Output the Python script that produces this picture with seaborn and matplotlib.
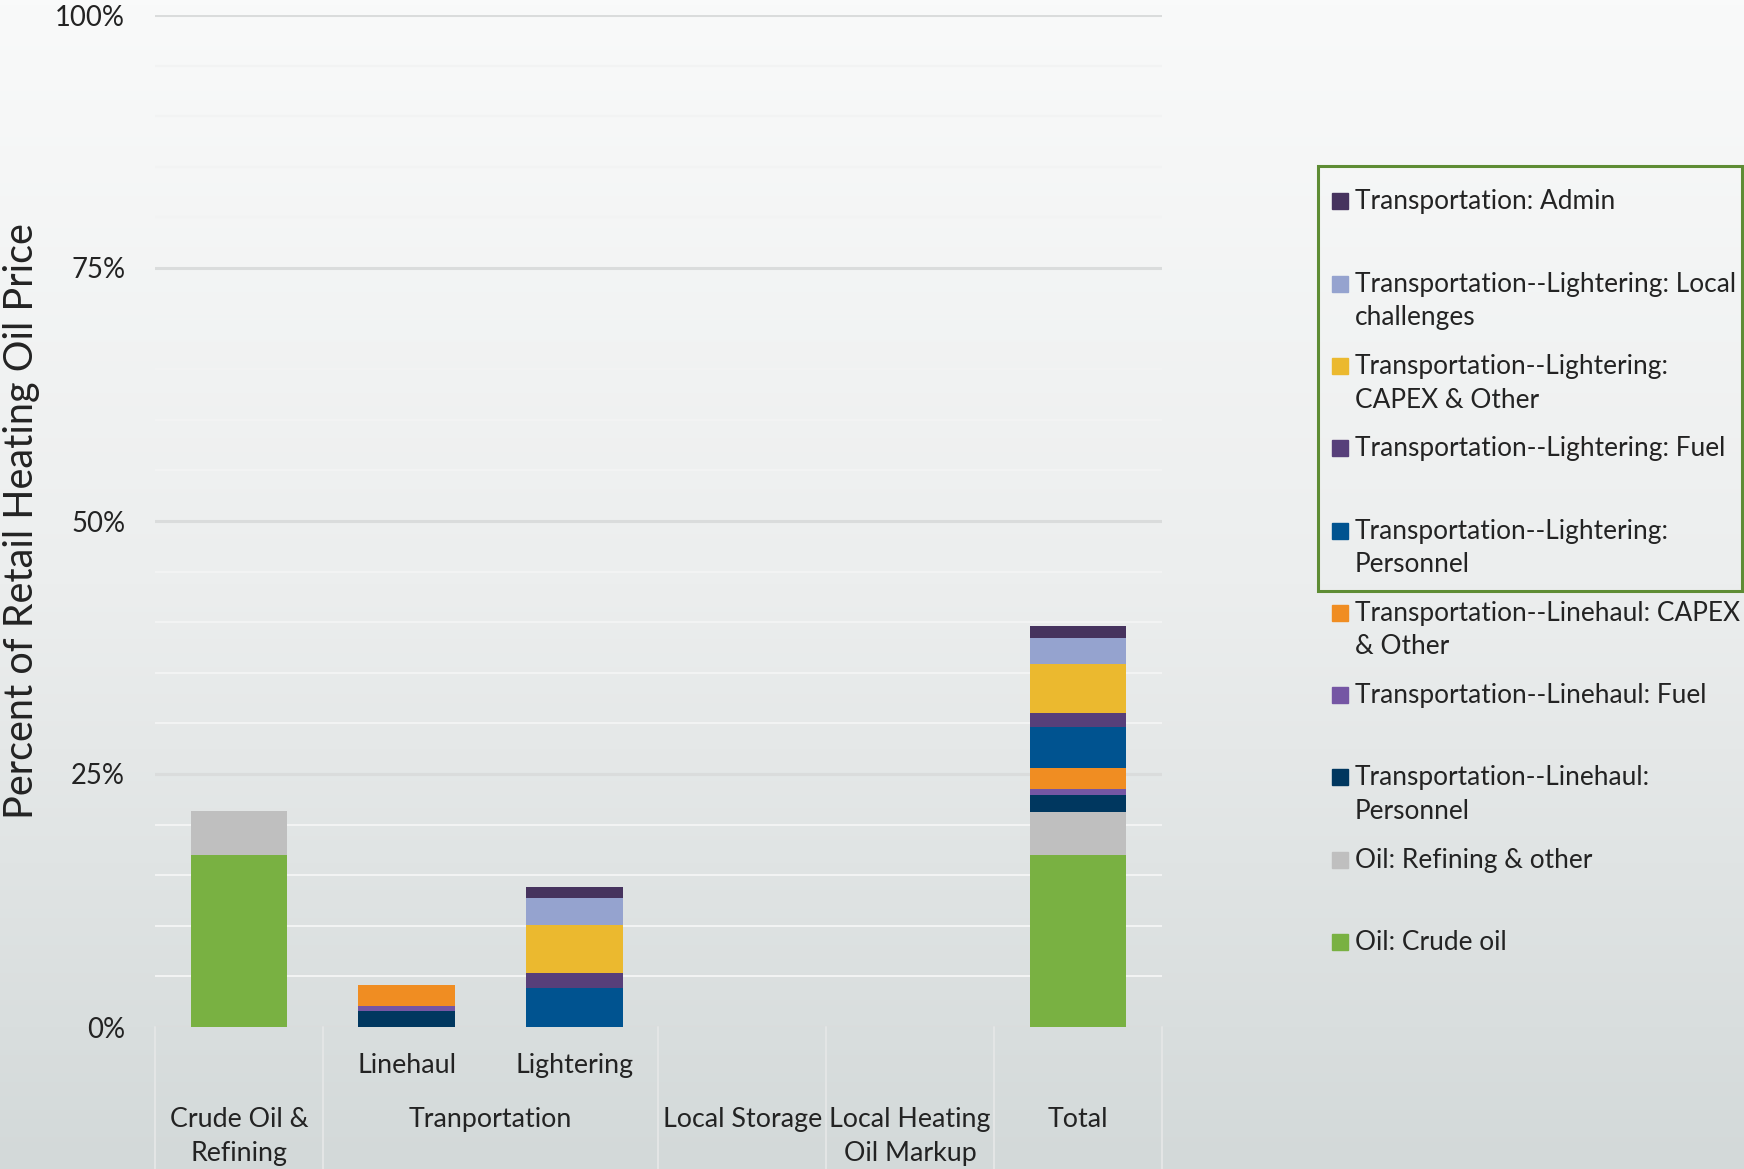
import numpy as np
import pandas as pd
import matplotlib
matplotlib.use("Agg")
import matplotlib.pyplot as plt
import matplotlib.transforms as mtransforms
from matplotlib.patches import Rectangle
from matplotlib.colors import LinearSegmentedColormap
import seaborn as sns

# ---------------- data ----------------
slots = ["Crude Oil & Refining", "Linehaul", "Lightering", "Local Storage",
         "Local Heating Oil Markup", "Total"]
sub_labels = ["", "Linehaul", "Lightering", "", "", ""]
group_labels = ["Crude Oil &\nRefining", "Tranportation", "Local Storage",
                "Local Heating\nOil Markup", "Total"]
group_spans = [(0, 0), (1, 2), (3, 3), (4, 4), (5, 5)]

crude_oil            = [17.0, 0, 0, 0, 0, 17.0]
refining_other       = [4.3, 0, 0, 0, 0, 4.25]
linehaul_personnel   = [0, 1.55, 0, 0, 0, 1.7]
linehaul_fuel        = [0, 0.55, 0, 0, 0, 0.55]
linehaul_capex       = [0, 2.05, 0, 0, 0, 2.05]
lightering_personnel = [0, 0, 3.9, 0, 0, 4.1]
lightering_fuel      = [0, 0, 1.4, 0, 0, 1.4]
lightering_capex     = [0, 0, 4.8, 0, 0, 4.8]
lightering_local     = [0, 0, 2.6, 0, 0, 2.6]
transport_admin      = [0, 0, 1.15, 0, 0, 1.2]

# stack order bottom -> top
series_values = [crude_oil, refining_other, linehaul_personnel, linehaul_fuel,
                 linehaul_capex, lightering_personnel, lightering_fuel,
                 lightering_capex, lightering_local, transport_admin]
series_names = ["Oil: Crude oil", "Oil: Refining & other",
                "Transportation--Linehaul:\nPersonnel",
                "Transportation--Linehaul: Fuel",
                "Transportation--Linehaul: CAPEX\n& Other",
                "Transportation--Lightering:\nPersonnel",
                "Transportation--Lightering: Fuel",
                "Transportation--Lightering:\nCAPEX & Other",
                "Transportation--Lightering: Local\nchallenges",
                "Transportation: Admin"]
series_colors = ["#79b142", "#bfbfbf", "#00375f", "#7556a4", "#f08d22",
                 "#005390", "#573f7a", "#ebb92f", "#95a3cf", "#46335e"]

y_ticks = [0, 25, 50, 75, 100]
y_tick_labels = ["0%", "25%", "50%", "75%", "100%"]
y_label = "Percent of Retail Heating Oil Price"

# ---------------- style ----------------
sns.set_theme(style="white")
FONT = ["Lato", "DejaVu Sans"]
plt.rcParams["font.family"] = FONT
TXT = "#232323"
FS = 19.3
FS_LEG = 18.9

W, H = 1744, 1169
fig = plt.figure(figsize=(W / 100, H / 100), dpi=100)

# background gradient
bg = fig.add_axes([0, 0, 1, 1], zorder=0)
cmap = LinearSegmentedColormap.from_list("bg", ["#f9fafa", "#eceeee", "#d3d9d9"])
grad = np.linspace(0, 1, 256).reshape(-1, 1)
bg.imshow(grad, aspect="auto", cmap=cmap, extent=[0, 1, 0, 1], origin="upper")
bg.set_axis_off()

left, right, top, bottom = 155, 1162, 15, 1027
ax = fig.add_axes([left / W, 1 - bottom / H, (right - left) / W, (bottom - top) / H], zorder=1)
ax.set_facecolor("none")

# stacked bars: draw cumulative totals from top series down
cum = np.cumsum(np.array(series_values, dtype=float), axis=0)
for i in range(len(series_values) - 1, -1, -1):
    df = pd.DataFrame({"slot": slots, "value": cum[i]})
    sns.barplot(data=df, x="slot", y="value", order=slots, color=series_colors[i],
                saturation=1, width=0.575, errorbar=None, linewidth=0, ax=ax, zorder=3)

ax.set_xlim(-0.5, len(slots) - 0.5)
ax.set_ylim(0, 100)
ax.set_yticks(y_ticks)
ax.set_yticks(np.arange(0, 101, 5), minor=True)
ax.set_yticklabels(y_tick_labels, fontsize=19.8, color=TXT)
ax.tick_params(axis="y", which="both", length=0, pad=21.5)
ax.set_xticks([])
ax.set_xlabel("")
ax.grid(False)
ax.grid(which="minor", axis="y", color="#f2f3f3", lw=1.5, zorder=1)
ax.grid(which="major", axis="y", color="#dadcdc", lw=2.2, zorder=2)
ax.set_axisbelow(True)
for s in ax.spines.values():
    s.set_visible(False)

ax.set_ylabel(y_label, fontsize=28.5, color=TXT)
ax.yaxis.set_label_coords((40 - left) / (right - left), 0.5)

# multi-level category axis
blend = mtransforms.blended_transform_factory(ax.transData, fig.transFigure)
y_bot_ax = -(H - bottom) / (bottom - top)
for b in [-0.5, 0.5, 2.5, 3.5, 4.5, 5.5]:
    ax.plot([b, b], [0, y_bot_ax], transform=mtransforms.blended_transform_factory(ax.transData, ax.transAxes),
            color="#e3e5e5", lw=1.5, clip_on=False, zorder=1)
for i, lab in enumerate(sub_labels):
    if lab:
        ax.text(i, 1 - 1073 / H, lab, transform=blend, ha="center", va="baseline",
                fontsize=FS, color=TXT)
for (a, b), lab in zip(group_spans, group_labels):
    for k, line in enumerate(lab.split("\n")):
        ax.text((a + b) / 2, 1 - (1127 + 34.5 * k) / H, line, transform=blend,
                ha="center", va="baseline", fontsize=FS, color=TXT)

# legend (top entry = top of stack)
for j, i in enumerate(range(len(series_names) - 1, -1, -1)):
    base = 209.3 + 82.3 * j
    fig.patches.append(Rectangle(((1332) / W, 1 - (base) / H), 16 / W, 16 / H,
                                 transform=fig.transFigure, color=series_colors[i], zorder=5))
    for k, line in enumerate(series_names[i].split("\n")):
        fig.text(1355 / W, 1 - (base + 33.6 * k) / H, line, ha="left", va="baseline",
                 fontsize=FS_LEG, color=TXT, zorder=5)

# green selection rectangle around the first legend entries
fig.patches.append(Rectangle((1318 / W, 1 - 591 / H), (1742 - 1318) / W, (591 - 166) / H,
                             transform=fig.transFigure, fill=False, edgecolor="#5e8c34",
                             lw=2.2, zorder=6))

fig.savefig("out.png", dpi=100)
